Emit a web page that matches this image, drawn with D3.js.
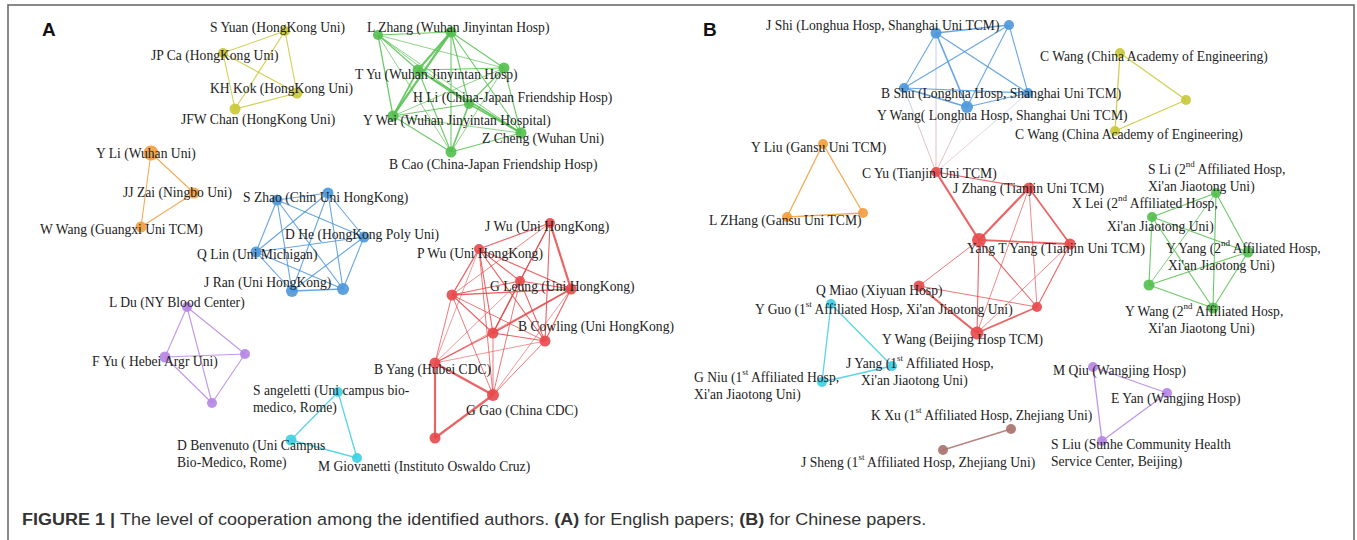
<!DOCTYPE html>
<html>
<head>
<meta charset="utf-8">
<script src="https://cdn.jsdelivr.net/npm/d3@7.9.0/dist/d3.min.js"></script>
<style>
  body { margin: 0; background: #fff; }
  svg { display: block; }
</style>
</head>
<body>
<svg id="chart" width="1357" height="540"></svg>
<script>
// group colours (one per collaboration cluster)
const groups = {
  yellow: "#c8c835", green: "#52bf4c", blue: "#4d97dc", orange: "#f29c3a",
  red: "#e8484a", purple: "#b584e4", cyan: "#3ccfe2", brown: "#a8716a"
};

// nodes: id, group, x, y (layout units), size
const nodes = [
  // A – yellow
  ["SYuan", "yellow", 285, 31, 5], ["JPCa", "yellow", 223, 53, 5], ["KHKok", "yellow", 297, 93, 5.5], ["JFWChan", "yellow", 235, 109, 5.5],
  // A – orange
  ["YLi", "orange", 151, 153, 7.5], ["JJZai", "orange", 194, 193, 5.5], ["WWang", "orange", 141, 227, 5.5],
  // A – blue
  ["SZhao", "blue", 277, 200, 5.5], ["B1", "blue", 328, 193, 5.5], ["DHe", "blue", 364, 237, 5.5],
  ["QLin", "blue", 256, 252, 5.5], ["JRan", "blue", 292, 291, 6], ["B2", "blue", 343, 289, 6],
  // A – purple
  ["LDu", "purple", 187, 307, 5], ["FYu", "purple", 165, 357, 5.5], ["P1", "purple", 245, 354, 5], ["P2", "purple", 212, 403, 5],
  // A – cyan
  ["Sang", "cyan", 338, 392, 5], ["DBen", "cyan", 291, 440, 5.5], ["MGio", "cyan", 357, 458, 5],
  // A – green
  ["LZhang", "green", 378, 35, 5], ["G1", "green", 451, 32, 5.5], ["G2", "green", 504, 68, 5.5], ["TYu", "green", 418, 70, 5.5],
  ["HLi", "green", 469, 104, 5], ["YWei", "green", 393, 116, 5.5], ["ZCheng", "green", 521, 133, 5.5], ["BCao", "green", 451, 152, 5.5],
  // A – red
  ["JWu", "red", 550, 223, 5], ["PWu", "red", 479, 249, 5], ["GLeung", "red", 520, 281, 5], ["R1", "red", 571, 289, 5.5],
  ["R2", "red", 452, 295, 5.5], ["R3", "red", 493, 333, 5.5], ["BCow", "red", 545, 341, 5.5], ["BYang", "red", 435, 363, 5.5],
  ["GGao", "red", 493, 395, 6], ["R4", "red", 435, 438, 5.5],
  // B – blue
  ["JShi", "blue", 936, 33, 5.5], ["BB1", "blue", 1009, 25, 5], ["BShu", "blue", 904, 88, 5], ["BB2", "blue", 1028, 93, 5], ["YWangL", "blue", 967, 107, 6],
  // B – yellow
  ["CWang1", "yellow", 1120, 53, 5], ["Y1", "yellow", 1186, 100, 5], ["CWang2", "yellow", 1115, 131, 5],
  // B – orange
  ["YLiu", "orange", 823, 144, 5], ["LZHang", "orange", 787, 217, 5], ["O1", "orange", 863, 213, 5],
  // B – red
  ["CYu", "red", 936, 172, 5], ["JZhang", "red", 1029, 188, 5.5], ["YangT", "red", 979, 240, 7], ["RB1", "red", 1070, 244, 5.5],
  ["QMiao", "red", 919, 286, 5.5], ["RB2", "red", 1037, 307, 5], ["YWangB", "red", 977, 333, 6.5],
  // B – green
  ["SLi", "green", 1216, 193, 5], ["XLei", "green", 1152, 217, 5], ["YYang", "green", 1248, 252, 5.5], ["GB1", "green", 1149, 285, 5.5], ["YWang2", "green", 1213, 308, 5.5],
  // B – cyan
  ["YGuo", "cyan", 831, 304, 5], ["JYang", "cyan", 892, 366, 5], ["GNiu", "cyan", 822, 382, 5],
  // B – brown
  ["KXu", "brown", 1011, 429, 5], ["JSheng", "brown", 943, 450, 5],
  // B – purple
  ["MQiu", "purple", 1093, 367, 5], ["EYan", "purple", 1167, 393, 5], ["SLiu", "purple", 1102, 441, 5]
];

// links: source, target, strength
const links = [
  ["SYuan","JPCa",1],["SYuan","KHKok",1],["SYuan","JFWChan",1],["JPCa","KHKok",1],["JPCa","JFWChan",1],["KHKok","JFWChan",1],
  ["YLi","JJZai",1],["YLi","WWang",1],["JJZai","WWang",1],
  ["SZhao","B1",1],["SZhao","DHe",1],["SZhao","QLin",1],["SZhao","JRan",1],["SZhao","B2",1],["B1","DHe",1],["B1","QLin",1],
  ["B1","JRan",1],["B1","B2",1],["DHe","QLin",1],["DHe","JRan",1],["DHe","B2",1],["QLin","JRan",1],["QLin","B2",1],["JRan","B2",1.2],
  ["LDu","FYu",1],["LDu","P1",1],["LDu","P2",1],["FYu","P1",1],["FYu","P2",1],["P1","P2",1],
  ["Sang","DBen",1.2],["Sang","MGio",1.2],["DBen","MGio",1.2],
  ["LZhang","G1",1],["LZhang","G2",0.7],["LZhang","TYu",1],["LZhang","HLi",0.7],["LZhang","YWei",1.2],["LZhang","ZCheng",0.7],["LZhang","BCao",0.7],
  ["G1","G2",1],["G1","TYu",2],["G1","HLi",1],["G1","YWei",2],["G1","ZCheng",1],["G1","BCao",1],
  ["G2","TYu",1],["G2","HLi",1],["G2","YWei",0.7],["G2","ZCheng",1],["G2","BCao",0.7],
  ["TYu","HLi",1],["TYu","YWei",1.5],["TYu","ZCheng",1.5],["TYu","BCao",1],
  ["HLi","YWei",1],["HLi","ZCheng",1.5],["HLi","BCao",1.5],["YWei","ZCheng",0.7],["YWei","BCao",1],["ZCheng","BCao",1],
  ["JWu","PWu",1],["JWu","GLeung",1],["JWu","R1",2],["JWu","R3",1],["JWu","BCow",1],["JWu","R2",0.7],
  ["PWu","GLeung",1],["PWu","R1",1],["PWu","R2",1.2],["PWu","R3",1],["PWu","BCow",1],["PWu","BYang",0.6],["PWu","GGao",0.8],
  ["GLeung","R1",1],["GLeung","R2",1],["GLeung","R3",1.2],["GLeung","BCow",1],["GLeung","BYang",0.6],["GLeung","GGao",0.8],
  ["R1","R2",1.2],["R1","R3",1.6],["R1","BCow",1],["R1","BYang",0.6],["R1","GGao",0.6],
  ["R2","R3",1],["R2","BCow",0.8],["R2","BYang",0.8],["R2","GGao",0.8],
  ["R3","BCow",1],["R3","BYang",1],["R3","GGao",0.8],["BCow","BYang",0.6],["BCow","GGao",0.8],
  ["BYang","GGao",2],["BYang","R4",2],["GGao","R4",2],
  ["JShi","BB1",1.2],["JShi","BShu",1],["JShi","BB2",1],["JShi","YWangL",1.5],["BB1","BShu",1],["BB1","BB2",1],["BB1","YWangL",1],
  ["BShu","BB2",1],["BShu","YWangL",1.5],["BB2","YWangL",1],
  ["CYu","JShi",0.8],["CYu","BShu",0.8],["CYu","YWangL",0.8],["CYu","BB2",0.6],
  ["CWang1","Y1",1.2],["CWang1","CWang2",1.2],["Y1","CWang2",1.2],
  ["YLiu","LZHang",1.2],["YLiu","O1",1.2],["LZHang","O1",1.5],
  ["CYu","YangT",2],["CYu","JZhang",1],["JZhang","YangT",2],["JZhang","RB1",1.6],["JZhang","YWangB",0.7],["JZhang","RB2",0.7],
  ["YangT","RB1",1.6],["YangT","QMiao",0.8],["YangT","YWangB",1],["YangT","RB2",1],["RB1","YWangB",0.7],["RB1","RB2",1],
  ["QMiao","RB2",0.8],["QMiao","YWangB",2],["RB2","YWangB",1.6],
  ["SLi","XLei",1],["SLi","YYang",1],["SLi","YWang2",1],["SLi","GB1",0.8],["XLei","YYang",1],["XLei","GB1",1],["XLei","YWang2",1],
  ["YYang","GB1",1],["YYang","YWang2",1],["GB1","YWang2",1],
  ["YGuo","JYang",1.2],["YGuo","GNiu",1.2],["JYang","GNiu",1.5],
  ["KXu","JSheng",1.5],
  ["MQiu","EYan",1.2],["MQiu","SLiu",1.2],["EYan","SLiu",1.2]
];

// author labels: lines of text (^xx = superscript), left x, middle y
const labels = [
  [["S Yuan (HongKong Uni)"], 210, 27], [["JP Ca (HongKong Uni)"], 151, 55], [["KH Kok (HongKong Uni)"], 210, 88],
  [["JFW Chan (HongKong Uni)"], 181, 119], [["Y Li (Wuhan Uni)"], 96, 153], [["JJ Zai (Ningbo Uni)"], 123, 192],
  [["W Wang (Guangxi Uni TCM)"], 40, 229], [["S Zhao (Chin Uni  HongKong)"], 243, 197], [["D He (HongKong Poly Uni)"], 285, 234],
  [["Q Lin (Uni  Michigan)"], 197, 254], [["J Ran (Uni HongKong)"], 204, 282], [["L Du (NY Blood Center)"], 109, 302],
  [["F Yu ( Hebei Argr Uni)"], 92, 361], [["S angeletti (Uni campus bio-", "medico, Rome)"], 253, 390],
  [["D Benvenuto (Uni Campus", "Bio-Medico, Rome)"], 177, 445], [["M Giovanetti (Instituto Oswaldo Cruz)"], 318, 466],
  [["L Zhang (Wuhan Jinyintan Hosp)"], 367, 27], [["T Yu (Wuhan Jinyintan Hosp)"], 355, 74],
  [["H Li (China-Japan Friendship Hosp)"], 413, 97], [["Y Wei (Wuhan Jinyintan Hospital)"], 363, 120],
  [["Z Cheng (Wuhan Uni)"], 482, 138], [["B Cao (China-Japan Friendship Hosp)"], 389, 164],
  [["J Wu (Uni HongKong)"], 485, 226], [["P Wu (Uni HongKong)"], 417, 253], [["G Leung (Uni HongKong)"], 490, 286],
  [["B Cowling (Uni HongKong)"], 518, 326], [["B Yang (Hubei CDC)"], 374, 369], [["G Gao (China CDC)"], 466, 410],
  [["J Shi (Longhua Hosp, Shanghai Uni TCM)"], 766, 25], [["B Shu (Longhua Hosp, Shanghai Uni TCM)"], 881, 93],
  [["Y Wang( Longhua Hosp, Shanghai Uni TCM)"], 877, 115], [["C Wang (China Academy of Engineering)"], 1040, 56],
  [["C Wang (China Academy of Engineering)"], 1015, 134], [["Y Liu (Gansu Uni TCM)"], 751, 147],
  [["L ZHang (Gansu Uni TCM)"], 709, 220], [["C Yu (Tianjin Uni TCM)"], 862, 173], [["J Zhang (Tianjin Uni TCM)"], 953, 188],
  [["Yang T Yang (Tianjin Uni TCM)"], 967, 248], [["S Li (2^nd Affiliated Hosp,", "Xi'an Jiaotong Uni)"], 1148, 169],
  [["X Lei (2^nd Affiliated Hosp,"], 1072, 203], [["Xi'an Jiaotong Uni)"], 1107, 226],
  [["Y Yang (2^nd Affiliated Hosp,"], 1166, 248], [["Xi'an Jiaotong Uni)"], 1168, 265],
  [["Y Wang (2^nd Affiliated Hosp,"], 1125, 311], [["Xi'an Jiaotong Uni)"], 1148, 328],
  [["Q Miao (Xiyuan Hosp)"], 816, 290], [["Y Guo (1^st Affiliated Hosp, Xi'an Jiaotong Uni)"], 755, 309],
  [["Y Wang (Beijing Hosp TCM)"], 882, 339], [["J Yang (1^st Affiliated Hosp,"], 846, 363], [["Xi'an Jiaotong Uni)"], 861, 380],
  [["G Niu (1^st Affiliated Hosp,", "Xi'an Jiaotong Uni)"], 694, 377],
  [["K Xu (1^st Affiliated Hosp, Zhejiang Uni)"], 871, 415], [["J Sheng (1^st Affiliated Hosp, Zhejiang Uni)"], 801, 462],
  [["M Qiu (Wangjing Hosp)"], 1053, 370], [["E Yan (Wangjing Hosp)"], 1111, 398],
  [["S Liu (Sunhe Community Health", "Service Center, Beijing)"], 1051, 444]
];

const panelLetters = [["A", 42, 29], ["B", 703, 29]];

const captionParts = [
  ["FIGURE 1 | ", true], ["The level of cooperation among the identified authors. ", false],
  ["(A)", true], [" for English papers; ", false], ["(B)", true], [" for Chinese papers.", false]
];

const width = 1357, height = 540;
const svg = d3.select("#chart");
const x = d3.scaleLinear().domain([0, 1357]).range([0, width]);
const y = d3.scaleLinear().domain([0, 540]).range([0, height]);
const r = d3.scaleLinear().domain([0, 10]).range([0, 10]);
const w = d3.scaleLinear().domain([0, 2]).range([0, 2]);

const byId = new Map(nodes.map(([id, g, nx, ny, s]) => [id, { id, g, x: nx, y: ny, s }]));

// frame
svg.append("rect")
  .attr("x", 8).attr("y", 5).attr("width", 1346).attr("height", 560)
  .attr("fill", "none").attr("stroke", "#6b6b6b").attr("stroke-width", 1.6);

const defs = svg.append("defs");

// edges
svg.append("g").selectAll("line")
  .data(links)
  .join("line")
  .attr("x1", d => x(byId.get(d[0]).x)).attr("y1", d => y(byId.get(d[0]).y))
  .attr("x2", d => x(byId.get(d[1]).x)).attr("y2", d => y(byId.get(d[1]).y))
  .attr("stroke", (d, i) => {
    const a = byId.get(d[0]), b = byId.get(d[1]);
    if (a.g === b.g) return groups[a.g];
    // mixed-cluster link gets a gradient between the two colours
    const gid = "grad" + i;
    const gr = defs.append("linearGradient").attr("id", gid).attr("gradientUnits", "userSpaceOnUse")
      .attr("x1", x(a.x)).attr("y1", y(a.y)).attr("x2", x(b.x)).attr("y2", y(b.y));
    gr.append("stop").attr("offset", "0%").attr("stop-color", groups[a.g]);
    gr.append("stop").attr("offset", "100%").attr("stop-color", groups[b.g]);
    return `url(#${gid})`;
  })
  .attr("stroke-opacity", d => {
    const a = byId.get(d[0]), b = byId.get(d[1]);
    return a.g === b.g ? 0.85 : 0.45;
  })
  .attr("stroke-width", d => w(d[2]) * 1.1);

// nodes
svg.append("g").selectAll("circle")
  .data(nodes)
  .join("circle")
  .attr("cx", d => x(d[2])).attr("cy", d => y(d[3]))
  .attr("r", d => r(d[4]))
  .attr("fill", d => groups[d[1]])
  .attr("fill-opacity", 0.9);

// labels
const lab = svg.append("g")
  .attr("font-family", "'Liberation Serif', 'Times New Roman', serif")
  .attr("font-size", 13.6)
  .attr("fill", "#222");

labels.forEach(([lines, lx, ly]) => {
  lines.forEach((line, li) => {
    const t = lab.append("text")
      .attr("x", x(lx)).attr("y", y(ly + li * 16.5))
      .attr("dominant-baseline", "central");
    let back = 0;
    line.split(/(\^\w+)/).forEach(part => {
      if (!part) return;
      if (part[0] === "^") {
        t.append("tspan").attr("font-size", 9).attr("dy", -5).text(part.slice(1));
        back = 5;
      } else {
        t.append("tspan").attr("dy", back || null).text(part);
        back = 0;
      }
    });
  });
});

// panel letters
svg.append("g").selectAll("text")
  .data(panelLetters)
  .join("text")
  .attr("x", d => x(d[1])).attr("y", d => y(d[2]))
  .attr("dominant-baseline", "central")
  .attr("font-family", "'Liberation Sans', Arial, sans-serif")
  .attr("font-weight", "bold").attr("font-size", 19)
  .attr("fill", "#111")
  .text(d => d[0]);

// caption, stretched to the width it has in the figure
const cap = svg.append("text")
  .attr("x", 22).attr("y", 519)
  .attr("dominant-baseline", "central")
  .attr("font-family", "'Liberation Sans', Arial, sans-serif")
  .attr("font-size", 17)
  .attr("fill", "#333");
cap.selectAll("tspan")
  .data(captionParts)
  .join("tspan")
  .attr("font-weight", d => d[1] ? "bold" : "normal")
  .text(d => d[0]);
const capW = cap.node().getComputedTextLength();
cap.attr("transform", `translate(22,0) scale(${905 / capW},1) translate(-22,0)`);
</script>
</body>
</html>
